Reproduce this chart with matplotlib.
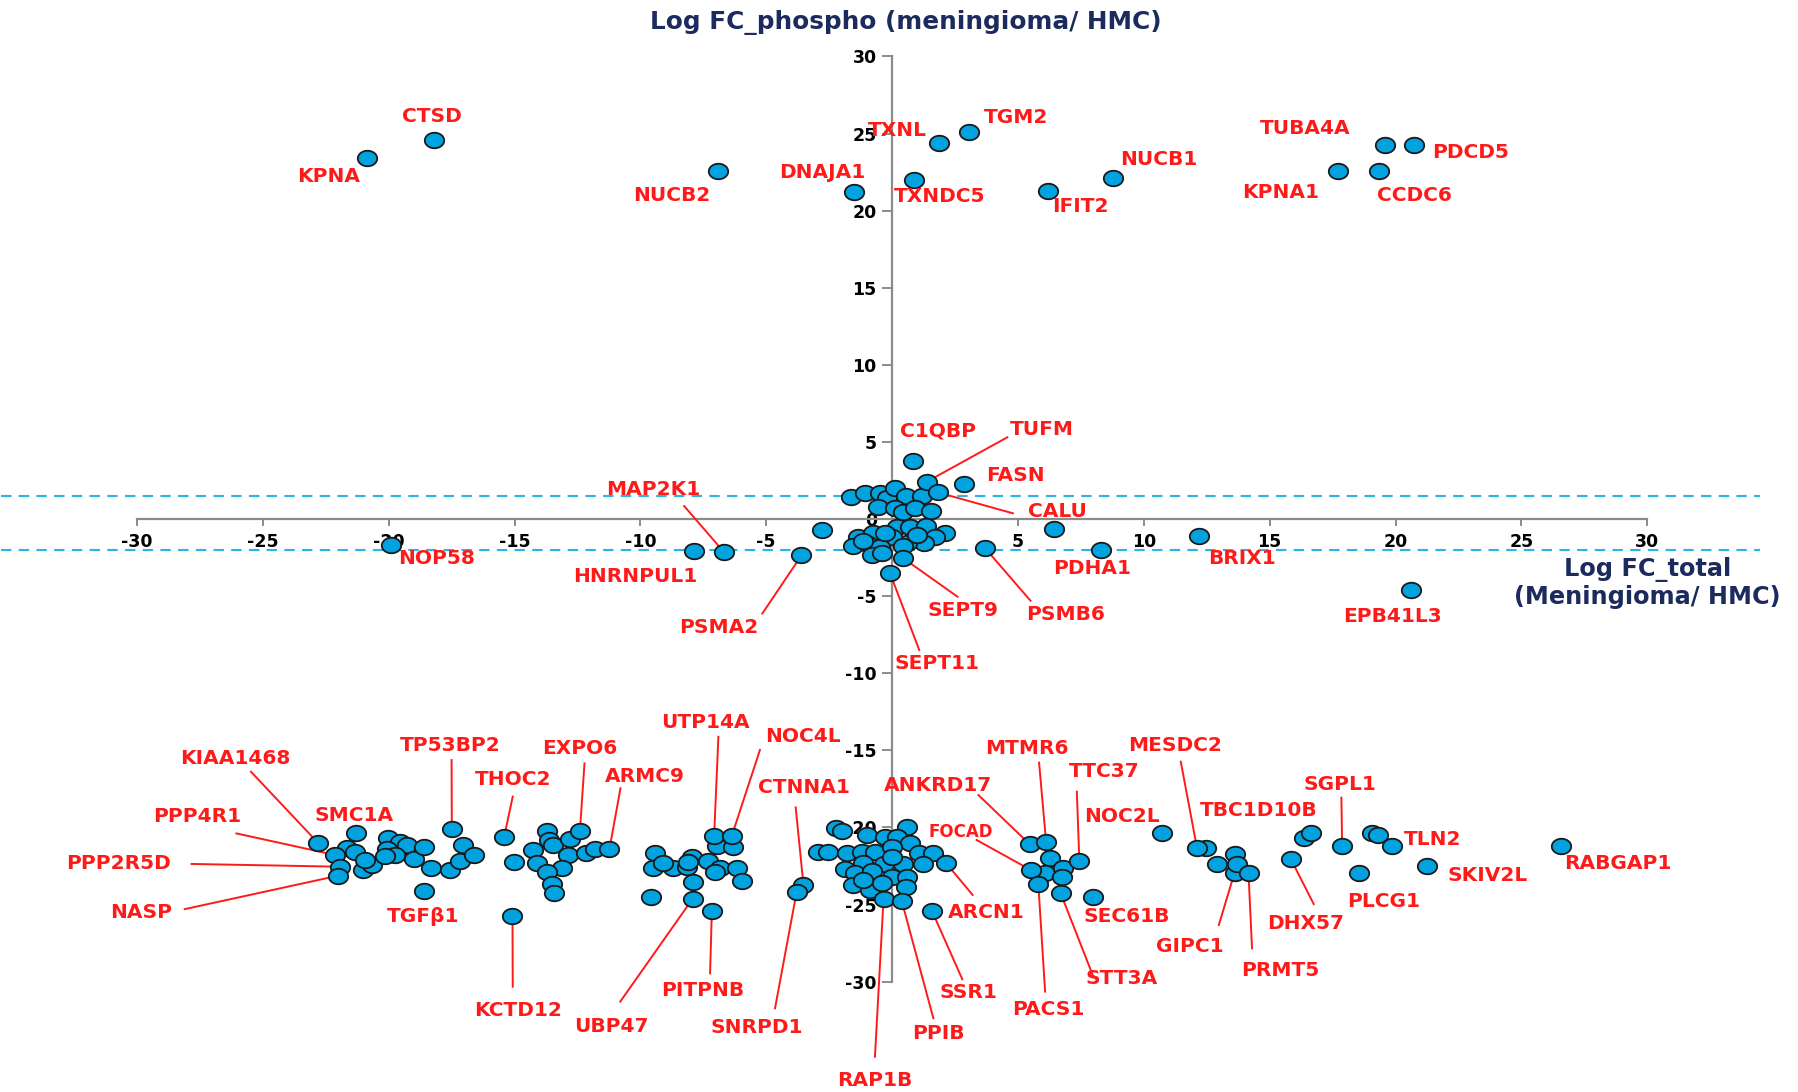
import numpy as np
import matplotlib
matplotlib.use("Agg")
import matplotlib.pyplot as plt
from matplotlib.path import Path

plt.rcParams["font.family"] = ["DejaVu Sans"]

# ---- labelled proteins -------------------------------------------------
genes = [
    "KPNA", "CTSD", "NUCB2", "DNAJA1", "TXNL", "TGM2", "TXNDC5", "IFIT2",
    "NUCB1", "TUBA4A", "PDCD5", "KPNA1", "CCDC6",
    "C1QBP", "TUFM", "FASN", "CALU", "MAP2K1", "HNRNPUL1", "PSMA2", "SEPT9",
    "PSMB6", "PDHA1", "SEPT11", "BRIX1", "EPB41L3", "NOP58",
    "KIAA1468", "SMC1A", "PPP4R1", "PPP2R5D", "NASP", "TP53BP2", "TGFβ1",
    "THOC2", "KCTD12", "EXPO6", "ARMC9", "UTP14A", "NOC4L", "CTNNA1",
    "UBP47", "PITPNB", "SNRPD1", "RAP1B", "PPIB", "SSR1", "ARCN1", "FOCAD",
    "ANKRD17", "MTMR6", "TTC37", "NOC2L", "PACS1", "STT3A", "SEC61B",
    "MESDC2", "TBC1D10B", "GIPC1", "PRMT5", "DHX57", "SGPL1", "PLCG1",
    "TLN2", "SKIV2L", "RABGAP1",
]
fc_total = [
    -20.85, -18.2, -6.9, -1.53, 1.87, 3.05, 0.89, 6.19,
    8.78, 19.6, 20.75, 17.72, 19.34,
    0.85, 1.38, 2.87, 1.81, -6.67, -7.85, -3.6, 0.45,
    3.7, 8.3, -0.08, 12.19, 20.6, -19.9,
    -22.79, -21.3, -22.13, -21.93, -22.0, -17.49, -18.59,
    -15.41, -15.08, -12.4, -11.23, -7.07, -6.37, -3.52,
    -7.92, -7.16, -3.79, -0.34, 0.38, 1.58, 2.13, 5.51,
    5.46, 6.12, 7.44, 10.74, 5.81, 6.7, 7.98,
    12.11, 16.66, 13.71, 14.16, 15.84, 17.88, 18.53,
    19.88, 21.24, 26.58,
]
fc_phospho = [
    23.4, 24.6, 22.6, 21.2, 24.4, 25.1, 22.0, 21.3,
    22.1, 24.25, 24.25, 22.6, 22.6,
    3.76, 2.42, 2.25, 1.73, -2.16, -2.05, -2.36, -2.55,
    -1.9, -2.0, -3.52, -1.08, -4.6, -1.67,
    -21.03, -20.34, -21.79, -22.55, -23.13, -20.13, -24.1,
    -20.6, -25.75, -20.21, -21.42, -20.56, -20.56, -23.74,
    -24.62, -25.4, -24.17, -24.67, -24.75, -25.4, -22.29, -22.76,
    -21.08, -20.97, -22.18, -20.39, -23.69, -24.28, -24.49,
    -21.31, -20.34, -22.37, -22.98, -22.05, -21.21, -22.98,
    -21.19, -22.48, -21.19,
]

# ---- unlabelled proteins -----------------------------------------------
other_total = [
    # near the origin, above the axis
    -1.64, -1.07, -0.48, -0.19, 0.12, 0.56, 1.18, -0.54, 0.12, 0.45, 0.91, 1.54,
    # near the origin, below the axis
    -1.34, -0.74, 0.19, 0.72, 1.35, 2.11, 1.71, 1.25, 0.58, -0.01, -1.54, -0.94,
    -0.48, 0.45, -0.81, -0.41, -0.28, -1.14, 0.98, -2.79, 6.45,
    # strongly down-phosphorylated, left group
    -21.67, -21.34, -21.0, -20.67, -20.94, -20.01, -19.55, -19.28, -20.05,
    -19.75, -20.14, -19.01, -18.59, -18.33, -17.58, -17.16, -17.06, -16.61,
    -15.02, -14.28, -14.12, -13.72, -13.62, -13.48, -12.79, -12.86, -13.12,
    -13.72, -13.52, -13.43, -12.16, -11.8,
    -6.97, -6.33, -9.42, -7.96, -7.3, -9.48, -8.69, -8.16, -6.83, -6.17,
    -7.03, -8.09, -5.97, -7.92, -9.59, -9.09,
    # strongly down-phosphorylated, centre group
    -2.22, -2.0, -1.01, 0.61, -0.28, 0.19, 0.72, -2.93, -2.53, -1.8, -1.21,
    -0.68, -0.01, 1.05, 1.64, 1.24, 0.45, -0.34, -1.14, -1.87, -1.47, -0.81,
    -0.01, 0.58, -1.54, -0.87, -0.41, 0.56, -1.14, -0.01,
    # strongly down-phosphorylated, right groups
    6.28, 6.08, 6.81, 6.74,
    12.48, 12.89, 13.62, 13.62, 16.35, 19.06, 19.3,
]
other_phospho = [
    1.41, 1.71, 1.66, 1.34, 2.03, 1.49, 1.49, 0.76, 0.69, 0.48, 0.69, 0.54,
    -1.15, -0.89, -0.54, -0.54, -0.45, -0.93, -1.19, -1.58, -1.53, -1.19, -1.75, -1.62,
    -1.84, -1.75, -2.33, -2.23, -0.93, -1.41, -1.04, -0.71, -0.67,
    -21.36, -21.57, -22.76, -22.44, -22.11, -20.71, -20.92, -21.14, -21.42,
    -21.79, -21.85, -22.07, -21.29, -22.65, -22.76, -22.16, -21.14, -21.79,
    -22.22, -21.47, -22.29, -20.21, -20.82, -21.14, -20.77, -21.79, -22.65,
    -22.87, -23.67, -24.23, -21.68, -21.42,
    -21.21, -21.29, -21.68, -21.89, -22.16, -22.66, -22.66, -22.55, -22.66, -22.66,
    -22.87, -22.22, -23.45, -23.56, -24.49, -22.33,
    -20.06, -20.21, -20.49, -19.99, -20.6, -20.6, -20.99, -21.57, -21.57, -21.64, -21.57,
    -21.57, -21.29, -21.68, -21.64, -22.37, -22.37, -22.37, -22.33, -22.72, -22.98, -22.81,
    -23.2, -23.2, -23.73, -24.06, -23.63, -23.89, -23.41, -21.9,
    -22.01, -22.93, -22.65, -23.24,
    -21.31, -22.4, -21.72, -22.93, -20.71, -20.39, -20.49,
]

axis_ticks = [-30, -25, -20, -15, -10, -5, 0, 5, 10, 15, 20, 25, 30]
threshold_up = 1.5
threshold_down = -2.0

# ---- label placement: text position, optional leader start -------------
label_layout = {
    "KPNA": (-22.4, 22.2, None), "CTSD": (-18.3, 26.1, None),
    "NUCB2": (-8.76, 21.0, None), "DNAJA1": (-2.76, 22.5, None),
    "TXNL": (0.2, 25.2, None), "TGM2": (4.93, 26.05, None),
    "TXNDC5": (1.9, 20.9, None), "IFIT2": (7.5, 20.3, None),
    "NUCB1": (10.6, 23.3, None), "TUBA4A": (16.4, 25.3, None),
    "PDCD5": (23.0, 23.8, None), "KPNA1": (15.45, 21.2, None),
    "CCDC6": (20.75, 21.0, None),
    "C1QBP": (1.84, 5.7, None), "TUFM": (5.95, 5.8, (4.58, 5.3)),
    "FASN": (4.9, 2.85, None), "CALU": (6.55, 0.5, (4.8, 0.37)),
    "MAP2K1": (-9.5, 1.9, (-8.26, 0.84)), "HNRNPUL1": (-10.2, -3.74, None),
    "PSMA2": (-6.9, -7.05, (-5.15, -6.12)), "SEPT9": (2.8, -5.95, (2.6, -5.04)),
    "PSMB6": (6.9, -6.2, (5.5, -5.3)), "PDHA1": (7.93, -3.23, None),
    "SEPT11": (1.8, -9.4, (1.08, -8.5)), "BRIX1": (13.9, -2.55, None),
    "EPB41L3": (19.9, -6.3, None), "NOP58": (-18.1, -2.56, None),
    "KIAA1468": (-26.1, -15.5, (-25.47, -16.39)), "SMC1A": (-21.36, -19.25, None),
    "PPP4R1": (-27.6, -19.3, (-26.05, -20.39)),
    "PPP2R5D": (-30.75, -22.37, (-27.83, -22.37)),
    "NASP": (-29.84, -25.5, (-28.1, -25.3)),
    "TP53BP2": (-17.57, -14.7, (-17.5, -15.63)), "TGFβ1": (-18.64, -25.79, None),
    "THOC2": (-15.07, -16.9, (-15.07, -18.0)),
    "KCTD12": (-14.85, -31.9, (-15.07, -30.33)),
    "EXPO6": (-12.42, -14.9, (-12.22, -15.85)),
    "ARMC9": (-9.84, -16.7, (-10.79, -17.46)),
    "UTP14A": (-7.43, -13.2, (-6.9, -14.12)),
    "NOC4L": (-3.55, -14.1, (-5.25, -14.98)),
    "CTNNA1": (-3.5, -17.4, (-3.83, -18.7)),
    "UBP47": (-11.16, -32.9, (-10.8, -31.3)),
    "PITPNB": (-7.52, -30.6, (-7.23, -29.46)),
    "SNRPD1": (-5.38, -33.0, (-4.65, -31.73)),
    "RAP1B": (-0.68, -36.4, (-0.68, -34.87)),
    "PPIB": (1.84, -33.35, (1.64, -32.38)),
    "SSR1": (3.03, -30.7, (2.79, -29.85)),
    "ARCN1": (3.76, -25.5, (3.2, -24.38)),
    "FOCAD": (2.73, -20.3, (3.36, -20.82)),
    "ANKRD17": (1.84, -17.3, (3.43, -17.9)),
    "MTMR6": (5.35, -14.9, (5.84, -15.8)),
    "TTC37": (8.43, -16.4, (7.34, -17.68)),
    "NOC2L": (9.14, -19.3, None),
    "PACS1": (6.21, -31.8, (6.08, -30.65)),
    "STT3A": (9.12, -29.8, (8.0, -29.7)),
    "SEC61B": (9.34, -25.75, None),
    "MESDC2": (11.26, -14.72, (11.47, -15.74)),
    "TBC1D10B": (14.57, -18.9, None),
    "GIPC1": (11.84, -27.7, (12.98, -26.33)),
    "PRMT5": (15.42, -29.29, (14.3, -27.84)),
    "DHX57": (16.44, -26.22, (16.75, -24.97)),
    "SGPL1": (17.8, -17.2, (17.85, -18.07)),
    "PLCG1": (19.51, -24.82, None),
    "TLN2": (21.48, -20.77, None),
    "SKIV2L": (23.66, -23.09, None),
    "RABGAP1": (28.85, -22.37, None),
}
small_labels = {"FOCAD"}

# ---- styling ------------------------------------------------------------
POINT_FILL = "#00a3e0"
POINT_EDGE = "#1a1a1a"
LABEL_RED = "#ff1a1a"
AXIS_GREY = "#8c8c8c"
TITLE_NAVY = "#1c2a5e"
DASH_BLUE = "#29b6e6"

fig = plt.figure(figsize=(17.98, 10.92), dpi=100)
ax = fig.add_axes([0, 0, 1, 1])
ax.set_xlim(-35.44, 35.99)
ax.set_ylim(-37.16, 33.66)

# slightly wide elliptical marker
theta = np.linspace(0, 2 * np.pi, 73)
ellipse = Path(np.column_stack([np.cos(theta), 0.8 * np.sin(theta)]))

# threshold lines
for level in (threshold_up, threshold_down):
    ax.plot([-35.4, 34.5], [level, level], color=DASH_BLUE, lw=1.5,
            ls=(0, (5, 3.5)), zorder=1)

# leader lines
for name, x, y in zip(genes, fc_total, fc_phospho):
    tx, ty, lead = label_layout[name]
    if lead is not None:
        ax.plot([lead[0], x], [lead[1], y], color=LABEL_RED, lw=1.4, zorder=3)

# points
ax.scatter(other_total, other_phospho, s=195, marker=ellipse, facecolor=POINT_FILL,
           edgecolor=POINT_EDGE, linewidths=1.3, zorder=4)
ax.scatter(fc_total, fc_phospho, s=195, marker=ellipse, facecolor=POINT_FILL,
           edgecolor=POINT_EDGE, linewidths=1.3, zorder=4)

# gene labels
for name in genes:
    tx, ty, lead = label_layout[name]
    ax.text(tx, ty, name, color=LABEL_RED, fontsize=12 if name in small_labels else 14.5,
            fontweight="bold", ha="center", va="center", zorder=5)

# axes through the origin
for side in ("top", "right"):
    ax.spines[side].set_visible(False)
for side in ("left", "bottom"):
    ax.spines[side].set_position(("data", 0))
    ax.spines[side].set_bounds(-30, 30)
    ax.spines[side].set_color(AXIS_GREY)
    ax.spines[side].set_linewidth(1.6)
    ax.spines[side].set_zorder(2)

ax.set_xticks(axis_ticks)
ax.set_yticks(axis_ticks)
ax.set_xticklabels([str(t) for t in axis_ticks])
ax.set_yticklabels([str(t) for t in axis_ticks])
ax.tick_params(axis="x", direction="out", length=5, width=1.4, color=AXIS_GREY,
               pad=5, labelsize=12.5)
ax.tick_params(axis="y", direction="out", length=7, width=1.4, color=AXIS_GREY,
               pad=4, labelsize=12.5)
for lbl in ax.get_xticklabels() + ax.get_yticklabels():
    lbl.set_fontweight("bold")

# axis titles
ax.text(0.55, 32.2, "Log FC_phospho (meningioma/ HMC)", color=TITLE_NAVY,
        fontsize=17.8, fontweight="bold", ha="center", va="center")
ax.text(30.0, -4.15, "Log FC_total\n(Meningioma/ HMC)", color=TITLE_NAVY,
        fontsize=17.3, fontweight="bold", ha="center", va="center",
        multialignment="center", linespacing=1.15)

fig.savefig("out.png", dpi=100)
